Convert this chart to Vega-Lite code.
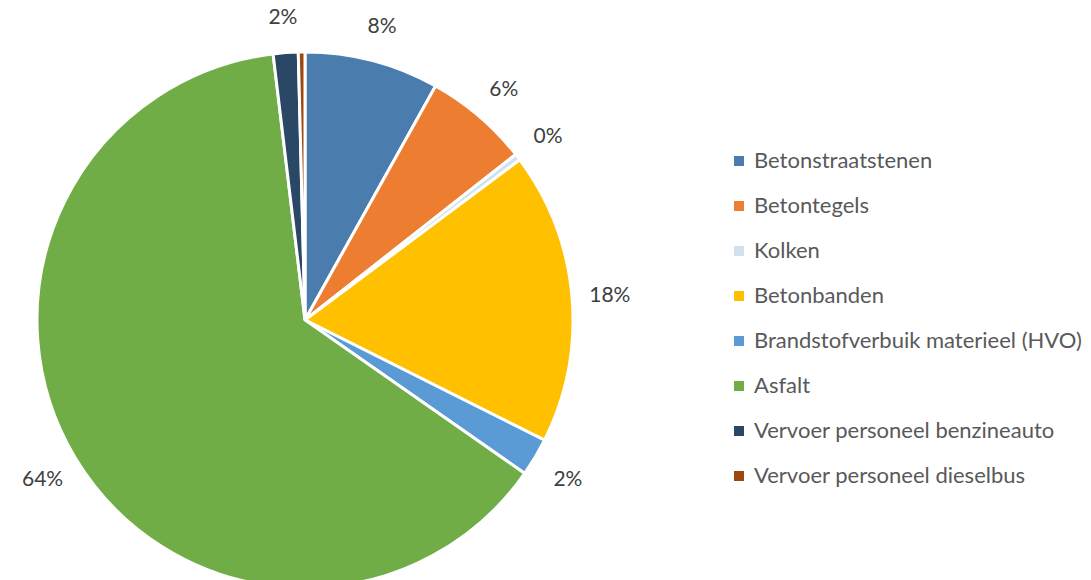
{
  "$schema": "https://vega.github.io/schema/vega-lite/v6.json",
  "width": 610,
  "height": 640,
  "autosize": {"type": "none"},
  "padding": {"left": 0, "top": 0, "right": 481, "bottom": 0},
  "background": "white",
  "config": {"view": {"stroke": null}, "font": "Lato"},
  "data": {
    "values": [
      {"idx": 1, "categorie": "Betonstraatstenen", "aandeel": 8.1, "label": "8%"},
      {"idx": 2, "categorie": "Betontegels", "aandeel": 6.3, "label": "6%"},
      {"idx": 3, "categorie": "Kolken", "aandeel": 0.4, "label": "0%"},
      {"idx": 4, "categorie": "Betonbanden", "aandeel": 17.6, "label": "18%"},
      {"idx": 5, "categorie": "Brandstofverbuik materieel (HVO)", "aandeel": 2.3, "label": "2%"},
      {"idx": 6, "categorie": "Asfalt", "aandeel": 63.4, "label": "64%"},
      {"idx": 7, "categorie": "Vervoer personeel benzineauto", "aandeel": 1.5, "label": "2%"},
      {"idx": 8, "categorie": "Vervoer personeel dieselbus", "aandeel": 0.4, "label": ""}
    ]
  },
  "encoding": {
    "theta": {"field": "aandeel", "type": "quantitative", "stack": true},
    "order": {"field": "idx", "type": "quantitative"}
  },
  "layer": [
    {
      "mark": {"type": "arc", "outerRadius": 268, "stroke": "white", "strokeWidth": 3},
      "encoding": {
        "color": {
          "field": "categorie",
          "type": "nominal",
          "scale": {
            "domain": ["Betonstraatstenen", "Betontegels", "Kolken", "Betonbanden", "Brandstofverbuik materieel (HVO)", "Asfalt", "Vervoer personeel benzineauto", "Vervoer personeel dieselbus"],
            "range": ["#4A7DAE", "#ED7D31", "#D3E1EE", "#FFC000", "#5B9BD5", "#70AD47", "#2A4765", "#9E480E"]
          },
          "legend": {
            "title": null,
            "orient": "none",
            "legendX": 728,
            "legendY": 150,
            "symbolType": "square",
            "symbolSize": 100,
            "symbolStrokeWidth": 0,
            "labelFontSize": 22,
            "labelColor": "#595959",
            "labelFont": "Lato",
            "rowPadding": 23,
            "labelOffset": 4,
            "labelLimit": 400
          }
        }
      }
    },
    {
      "mark": {"type": "text", "radius": 306, "dy": 3, "fontSize": 21, "color": "#404040", "font": "Lato"},
      "encoding": {"text": {"field": "label", "type": "nominal"}}
    }
  ]
}
